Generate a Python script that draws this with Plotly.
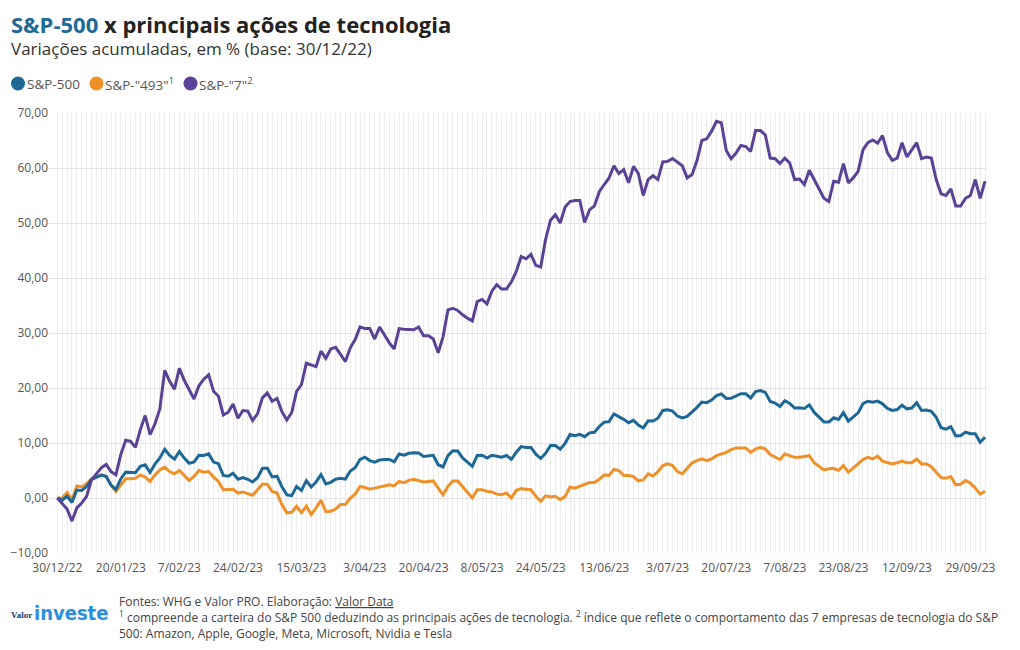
import plotly.graph_objects as go

# ---------------- data ----------------
# trading days (category axis), grouped by (year, month)
TRADING_DAYS = {
    (2022, 12): [30],
    (2023, 1): [3, 4, 5, 6, 9, 10, 11, 12, 13, 17, 18, 19, 20, 23, 24, 25, 26, 27, 30, 31],
    (2023, 2): [1, 2, 3, 6, 7, 8, 9, 10, 13, 14, 15, 16, 17, 21, 22, 23, 24, 27, 28],
    (2023, 3): [1, 2, 3, 6, 7, 8, 9, 10, 13, 14, 15, 16, 17, 20, 21, 22, 23, 24, 27, 28, 29, 30, 31],
    (2023, 4): [3, 4, 5, 6, 10, 11, 12, 13, 14, 17, 18, 19, 20, 21, 24, 25, 26, 27, 28],
    (2023, 5): [1, 2, 3, 4, 5, 8, 9, 10, 11, 12, 15, 16, 17, 18, 19, 22, 23, 24, 25, 26, 30, 31],
    (2023, 6): [1, 2, 5, 6, 7, 8, 9, 12, 13, 14, 15, 16, 20, 21, 22, 23, 26, 27, 28, 29, 30],
    (2023, 7): [3, 5, 6, 7, 10, 11, 12, 13, 14, 17, 18, 19, 20, 21, 24, 25, 26, 27, 28, 31],
    (2023, 8): [1, 2, 3, 4, 7, 8, 9, 10, 11, 14, 15, 16, 17, 18, 21, 22, 23, 24, 25, 28, 29, 30, 31],
    (2023, 9): [1, 5, 6, 7, 8, 11, 12, 13, 14, 15, 18, 19, 20, 21, 22, 25, 26, 27, 28, 29],
    (2023, 10): [2, 3, 4],
}
dates = [f"{d}/{m:02d}/{y % 100:02d}" for (y, m), days in TRADING_DAYS.items() for d in days]

TICK_LABELS = ["30/12/22", "20/01/23", "7/02/23", "24/02/23", "15/03/23", "3/04/23",
               "20/04/23", "8/05/23", "24/05/23", "13/06/23", "3/07/23", "20/07/23",
               "7/08/23", "23/08/23", "12/09/23", "29/09/23"]

sp500 = [0.00, -0.40, 0.35, -0.82, 1.45, 1.37, 2.08, 3.39, 3.74, 4.16, 3.94, 2.33, 1.55, 3.47, 4.70, 4.62, 4.60, 5.75, 6.02, 4.64, 6.18,
         7.28, 8.86, 7.73, 7.07, 8.45, 7.25, 6.30, 6.54, 7.76, 7.73, 8.02, 6.53, 6.24, 4.11, 3.95, 4.50, 3.40, 3.72, 3.40,
         2.91, 3.69, 5.37, 5.44, 3.83, 3.97, 2.05, 0.58, 0.42, 2.08, 1.37, 3.15, 2.01, 2.92, 4.25, 2.54, 2.84, 3.42, 3.59, 3.43, 4.90, 5.50, 7.03,
         7.42, 6.80, 6.53, 6.91, 7.02, 7.02, 6.57, 7.99, 7.77, 8.12, 8.21, 8.20, 7.56, 7.66, 7.75, 6.05, 5.64, 7.71, 8.59,
         8.55, 7.29, 6.54, 5.77, 7.73, 7.78, 7.28, 7.77, 7.58, 7.41, 7.73, 7.04, 8.32, 9.34, 9.18, 9.20, 7.97, 7.18, 8.12, 9.53, 9.53, 8.86,
         9.94, 11.53, 11.31, 11.57, 11.15, 11.84, 11.96, 13.01, 13.79, 13.88, 15.27, 14.85, 14.30, 13.70, 14.13, 13.25, 12.74, 14.03, 13.99, 14.50, 15.91,
         16.05, 15.82, 14.90, 14.57, 14.85, 15.62, 16.48, 17.46, 17.34, 17.80, 18.63, 18.91, 18.11, 18.15, 18.62, 18.96, 18.94, 18.18, 19.34, 19.52,
         19.20, 17.55, 17.25, 16.63, 17.68, 17.19, 16.36, 16.39, 16.27, 16.93, 15.58, 14.71, 13.83, 13.81, 14.59, 14.27, 15.54, 13.98, 14.75, 15.47, 17.14, 17.59, 17.40,
         17.61, 17.12, 16.30, 15.93, 16.09, 16.87, 16.21, 16.36, 17.34, 15.91, 15.99, 15.74, 14.66, 12.78, 12.52, 12.97, 11.30, 11.33, 11.99, 11.68,
         11.69, 10.15, 11.05]

sp493 = [0.0, 0.0, 1.0, -0.3, 2.2, 2.0, 2.6, 3.5, 3.9, 4.2, 3.9, 2.4, 1.2, 2.4, 3.5, 3.5, 3.6, 4.2, 3.8, 3.0,
         4.2, 5.1, 5.6, 4.8, 4.4, 5.0, 4.1, 3.2, 3.9, 5.0, 4.7, 4.8, 3.8, 3.0, 1.5, 1.5, 1.6, 0.9, 1.1, 0.8,
         0.5, 1.5, 2.5, 2.5, 1.2, 0.9, -1.2, -2.7, -2.6, -1.5,
         -2.7, -1.5, -3.0, -1.8, -0.4, -2.5, -2.4, -2.0, -1.2, -1.2, 0.0, 0.7, 2.1, 1.9, 1.6, 1.8, 2.0, 2.2, 2.4, 2.2,
         3.0, 2.8, 3.2, 3.4, 3.2, 2.9, 3.0, 3.1, 1.8, 0.6, 2.1, 3.1, 3.1, 2.0, 1.1, 0.0, 1.5, 1.5, 1.2, 1.1,
         0.7, 0.6, 0.9, 0.0, 1.4, 1.7, 1.6, 1.5, 0.3,
         -0.6, 0.4, 0.2, 0.3, -0.3, 0.3, 2.0, 1.8, 2.1, 2.5, 2.8, 2.8, 3.4, 4.2, 4.1, 5.2, 5.0, 4.1, 4.1, 3.9,
         3.1, 3.3, 4.4, 4.0, 4.8, 5.9, 6.2, 5.9, 4.8, 4.4, 5.4, 6.4, 6.8, 7.1, 6.8, 7.1, 7.7, 8.0, 8.3, 8.8,
         9.1, 9.1, 9.1, 8.3, 8.9, 9.2, 8.9, 7.9, 7.4, 7.0,
         8.0, 7.7, 7.4, 7.4, 7.6, 7.7, 6.4, 5.7, 5.1, 5.3, 5.4, 5.0, 5.9, 4.7, 5.4, 6.2, 7.0, 7.4, 7.1, 7.6,
         6.7, 6.4, 6.2, 6.4, 6.7, 6.4, 6.4, 7.1, 6.2, 6.2, 5.7, 4.7, 3.7, 3.6, 3.9, 2.4, 2.5, 3.2, 2.7, 1.8,
         0.7, 1.2]

sp7 = [0.0, -1.0, -2.0, -4.2, -1.8, -0.9, 0.3, 3.3, 4.5, 5.5, 6.1, 4.8, 4.2,
       7.9, 10.5, 10.3, 9.2, 12.4, 15.0, 11.5, 13.5, 16.2, 23.2, 21.2, 19.8, 23.6, 21.4, 19.8, 18.0, 20.4,
       21.6, 22.4, 19.4, 18.5, 15.1, 15.6, 17.1, 14.5, 15.9, 15.8, 14.1, 15.3, 18.2, 19.1, 17.6, 18.1, 15.7,
       14.2, 15.5, 19.4,
       20.6, 24.5, 24.2, 23.9, 26.7, 25.4, 27.1, 27.4, 26.1, 24.8, 27.3, 28.8, 31.1, 30.8, 30.8, 28.9, 31.1,
       29.7, 28.2, 27.1, 30.8, 30.7, 30.6, 30.6, 31.1, 29.5, 29.5, 28.9, 26.4, 29.3, 34.2, 34.5, 34.1, 33.3,
       32.7, 32.2, 35.7, 36.1, 35.3, 37.6, 38.8, 38.0, 38.0, 39.3, 41.2, 43.9, 43.5, 44.3, 42.3,
       42.0, 47.0, 50.5, 51.5, 50.0, 52.9, 53.9, 54.1, 54.1, 50.1, 52.4, 53.1, 55.7, 57.0, 58.2, 60.4, 59.0,
       59.7, 57.3, 60.3, 59.0, 55.0, 57.9, 58.6, 57.9, 61.1, 61.2, 61.7, 61.1, 60.4, 58.2, 58.8, 61.3, 65.0,
       65.3, 66.7, 68.5, 68.2, 63.2, 61.7, 62.7, 64.1, 63.9, 63.0, 66.8, 66.8, 66.0, 61.8, 61.7, 60.8,
       61.8, 60.9, 57.9, 58.0, 57.0, 59.6, 57.9, 56.2, 54.5, 53.9, 57.6, 57.4, 60.8, 57.3, 58.2, 59.4, 63.3,
       64.6, 65.1, 64.5, 65.9, 62.8, 61.4, 61.8, 64.6, 62.0, 63.3, 64.6, 61.7, 62.0, 61.8, 57.9, 55.3, 55.0,
       56.2, 53.1, 53.1, 54.5, 55.0, 57.9, 54.5, 57.6]

SERIES_NAMES = ["S&P-500", 'S&P-"493"<sup>1</sup>', 'S&P-"7"<sup>2</sup>']
COLORS = ["#1d6897", "#ef9029", "#5a4296"]

# ---------------- layout constants ----------------
W, H = 1020, 650
L, R, T, B = 49, 33, 113, 97
PW, PH = W - L - R, H - T - B
FONT = "Open Sans"


def px(x):
    return (x - L) / PW


def py(y):
    return (H - B - y) / PH


fig = go.Figure()
for vals, name, col in [(sp493, SERIES_NAMES[1], COLORS[1]),
                        (sp500, SERIES_NAMES[0], COLORS[0]),
                        (sp7, SERIES_NAMES[2], COLORS[2])]:
    fig.add_trace(go.Scatter(x=dates, y=vals, name=name, mode="lines",
                             line=dict(color=col, width=3), showlegend=False))

ticktext = [d if d in TICK_LABELS else "" for d in dates]

fig.update_layout(
    width=W, height=H,
    margin=dict(l=L, r=R, t=T, b=B, pad=0),
    paper_bgcolor="white", plot_bgcolor="white",
    separators=",.",
    font=dict(family=FONT, color="#555"),
    xaxis=dict(type="category", tickmode="array", tickvals=dates, ticktext=ticktext,
               tickangle=0, range=[-1.7, 190.4], showgrid=True, gridcolor="#ececec",
               gridwidth=1, ticks="", showline=False, zeroline=False, ticklabelstandoff=6,
               tickfont=dict(size=12, color="#555", family=FONT)),
    yaxis=dict(range=[-10, 70], dtick=10, tick0=0, tickformat=".2f", showgrid=True,
               gridcolor="#e4e4e4", gridwidth=1, zeroline=False, ticks="", showline=False,
               tickfont=dict(size=12, color="#555", family=FONT)),
    hovermode=False,
)

ann = []
# title and subtitle
ann.append(dict(text='<b><span style="color:#1f6a98">S&P-500</span> x principais ações de tecnologia</b>',
                x=px(10), y=py(24), font=dict(size=22, color="#222", family=FONT)))
ann.append(dict(text="Variações acumuladas, em % (base: 30/12/22)",
                x=px(10), y=py(48), font=dict(size=17, color="#333", family=FONT)))

# legend (dots + labels)
shapes = []
legend_pos = [(18, 27), (96.5, 105), (190.5, 199)]
for (dx, tx), name, col in zip(legend_pos, SERIES_NAMES, COLORS):
    shapes.append(dict(type="circle", xref="paper", yref="paper",
                       xsizemode="pixel", ysizemode="pixel",
                       xanchor=px(dx), yanchor=py(83.5),
                       x0=-7, x1=7, y0=-7, y1=7,
                       fillcolor=col, line=dict(width=0)))
    ann.append(dict(text=name, x=px(tx - 1), y=py(84), font=dict(size=13.5, color="#555", family=FONT)))

# footer logo
ann.append(dict(text="<b>Valor</b>", x=px(10), y=py(615),
                font=dict(size=9, color="#1b3a70", family="Liberation Serif")))
ann.append(dict(text="<b>investe</b>", x=px(33), y=py(613),
                font=dict(size=20, color="#2a8fe0", family="DejaVu Sans Condensed, DejaVu Sans")))

# footer notes
ann.append(dict(text='Fontes: WHG e Valor PRO. Elaboração: <span style="text-decoration:underline">Valor Data</span>',
                x=px(118), y=py(601), font=dict(size=12, color="#444", family=FONT)))
ann.append(dict(text="<sup>1</sup> compreende a carteira do S&P 500 deduzindo as principais ações de tecnologia. "
                     "<sup>2</sup> índice que reflete o comportamento das 7 empresas de tecnologia do S&P",
                x=px(118), y=py(617), font=dict(size=12, color="#444", family=FONT)))
ann.append(dict(text="500: Amazon, Apple, Google, Meta, Microsoft, Nvidia e Tesla",
                x=px(118), y=py(633), font=dict(size=12, color="#444", family=FONT)))

for a in ann:
    a.update(xref="paper", yref="paper", xanchor="left", yanchor="middle",
             showarrow=False, align="left", borderpad=0)
fig.update_layout(annotations=ann, shapes=shapes)

fig.write_html("out.html")
